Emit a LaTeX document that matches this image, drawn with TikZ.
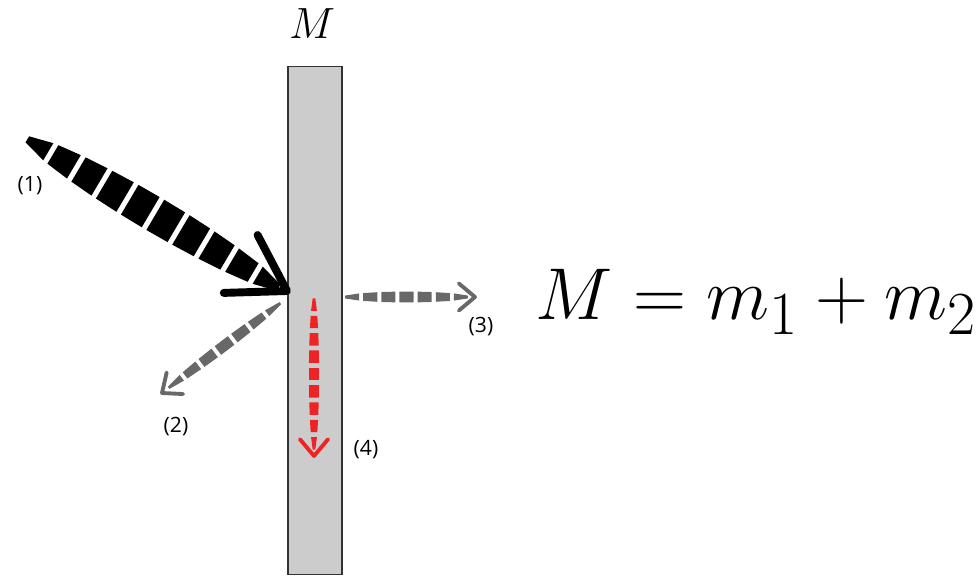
\documentclass[tikz,border=0pt]{standalone}
\usepackage{fontspec}
\newfontfamily\labelfont{Open Sans}
\usetikzlibrary{calc}

\definecolor{bargray}{HTML}{CCCCCC}
\definecolor{beamgray}{HTML}{686868}
\definecolor{beamred}{HTML}{EE2424}

% tapered dashed shaft: #1 start, #2 end, #3 dashes, #4 max width (pt), #5 colour, #6 half gap (fraction)
\newcommand{\taperbeam}[6]{%
  \pgfmathanglebetweenpoints{\pgfpointanchor{#1}{center}}{\pgfpointanchor{#2}{center}}%
  \let\beamang\pgfmathresult
  \foreach \i in {1,...,#3}{
    \pgfmathsetmacro\ta{(\i-1)/#3+#6}
    \pgfmathsetmacro\tb{\i/#3-#6}
    \pgfmathsetmacro\ha{0.5*#4*pow(sin(180*\ta),0.45)}
    \pgfmathsetmacro\hb{0.5*#4*pow(sin(180*\tb),0.45)}
    \fill[#5] ($(#1)!\ta!(#2)+(\beamang+90:\ha pt)$) -- ($(#1)!\tb!(#2)+(\beamang+90:\hb pt)$)
      -- ($(#1)!\tb!(#2)+(\beamang-90:\hb pt)$) -- ($(#1)!\ta!(#2)+(\beamang-90:\ha pt)$) -- cycle;
  }}
% open chevron head: #1 tip, #2 back point, #3 arm length, #4 angle, #5 style
\newcommand{\chevron}[5]{%
  \draw[#5] ($(#1)!#3!#4:(#2)$) -- (#1) -- ($(#1)!#3!-#4:(#2)$);}

\tikzset{
  tag/.style={font=\labelfont\fontsize{12}{14}\selectfont, inner sep=0pt},
  bighead/.style={line width=4.5pt, line cap=round, line join=round},
  smallhead/.style={line width=2.2pt, line cap=round, line join=round}
}

\begin{document}
\begin{tikzpicture}[x=0.02cm, y=-0.02cm]
    \useasboundingbox (0,0) rectangle (980,577);
    % the body
    \node[draw=black!80, fill=bargray, line width=0.6pt, inner sep=0pt,
          minimum width=1.08cm, minimum height=10.18cm] (mass) at (315,320.5) {};
    \node[font=\Huge] (mlabel) at (312,24) {$M$};

    % (1) incoming
    \coordinate (in1s) at (25,138);
    \coordinate (in1e) at (281,289);
    \coordinate (in1t) at (287,291);
    \taperbeam{in1s}{in1e}{10}{20}{black}{0.009}
    \chevron{in1t}{in1s}{36pt}{32}{bighead, black}
    \node[tag] (t1) at (30,186) {(1)};

    % (2) reflected
    \coordinate (in2s) at (282,302);
    \coordinate (in2e) at (167,389);
    \coordinate (in2t) at (162,393);
    \taperbeam{in2s}{in2e}{7}{6.2}{beamgray}{0.014}
    \chevron{in2t}{in2s}{12pt}{40}{smallhead, beamgray}
    \node[tag] (t2) at (176,427) {(2)};

    % (3) transmitted
    \coordinate (in3s) at (343,297);
    \coordinate (in3e) at (470,297);
    \coordinate (in3t) at (475,297);
    \taperbeam{in3s}{in3e}{7}{6.2}{beamgray}{0.016}
    \chevron{in3t}{in3s}{12pt}{40}{smallhead, beamgray}
    \node[tag] (t3) at (481,327) {(3)};

    % (4) absorbed
    \coordinate (in4s) at (314,296);
    \coordinate (in4e) at (314,452);
    \coordinate (in4t) at (314,456);
    \taperbeam{in4s}{in4e}{9}{5.8}{beamred}{0.016}
    \chevron{in4t}{in4s}{12.5pt}{40}{smallhead, beamred}
    \node[tag] (t4) at (366,450) {(4)};

    \node[anchor=base west, inner sep=0pt, font=\Huge, scale=1.68] (sum) at (535,320)
        {$M = m_1 + m_2$};
\end{tikzpicture}
\end{document}
